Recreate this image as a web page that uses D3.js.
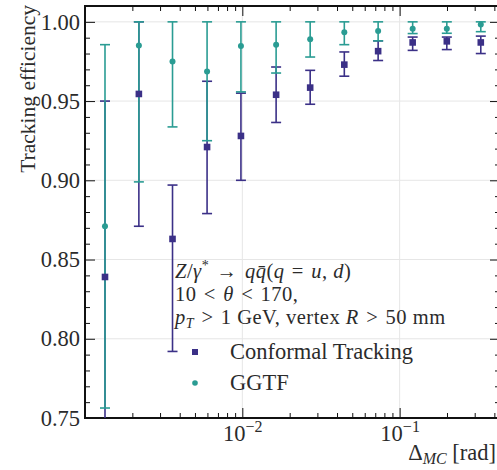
<!DOCTYPE html>
<html>
<head>
<meta charset="utf-8">
<script src="https://cdn.jsdelivr.net/npm/d3@7"></script>
<style>
	body { margin: 0; background: #fff; }
	svg text { font-family: 'Liberation Serif', 'Times New Roman', 'DejaVu Serif', serif; fill: #2b2b2b; }
</style>
</head>
<body>
<script>

// bin centres of Delta_MC [rad]
const deltaMC = [0.00134, 0.0022, 0.0036, 0.00597, 0.0098, 0.0164, 0.027, 0.0445, 0.073, 0.121, 0.1995, 0.328];

// Conformal Tracking
const confEff  = [0.839, 0.9545, 0.863, 0.921, 0.928, 0.954, 0.9585, 0.973, 0.9815, 0.987, 0.9877, 0.987];
const confLow  = [0.728, 0.871, 0.792, 0.879, 0.900, 0.9365, 0.948, 0.9657, 0.9756, 0.982, 0.9825, 0.980];
const confHigh = [0.950, 1.000, 0.897, 0.9625, 0.955, 0.9715, 0.9694, 0.981, 0.988, 0.9904, 0.9904, 0.991];

// GGTF
const ggtfEff  = [0.871, 0.985, 0.975, 0.9686, 0.9848, 0.9856, 0.989, 0.9934, 0.9942, 0.9957, 0.9957, 0.9984];
const ggtfLow  = [0.7563, 0.899, 0.9337, 0.925, 0.9558, 0.9677, 0.9778, 0.9856, 0.988, 0.9926, 0.9928, 0.9938];
const ggtfHigh = [0.9856, 1.0, 1.0, 1.0, 1.0, 1.0, 1.0, 1.0, 1.0, 1.0, 1.0, 1.0];

const yMajor = [0.75, 0.80, 0.85, 0.90, 0.95, 1.00];
const xMajor = [0.01, 0.1];

const margin = {
	top: 6,
	bottom: 52,
	left: 85,
	right: -3
}

const width = 497 - margin.left - margin.right;
const height = 470 - margin.top - margin.bottom;

const purple = '#3b3087';
const teal = '#2a9c93';
const serif = "'Liberation Serif', 'Times New Roman', 'DejaVu Serif', serif";
const fs = '22.5px';
const sp = '\u2004'; // a bit wider gap around relations, like TeX math

const x = d3.scaleLog().domain([0.001, 0.4345]).range([0, width]);
const y = d3.scaleLinear().domain([0.75, 1.01]).range([height, 0]);

const yMinor = d3.range(76, 101).map(function(d) { return d / 100; }).filter(function(d) { return Math.round(d * 100) % 5 != 0; });
const xMinor = [];
[0.001, 0.01, 0.1].forEach(function(dec) {
	for (let k = 2; k <= 9; k++) {
		if (dec * k < 0.4345) xMinor.push(dec * k);
	}
});

const svg = d3.select('body').append('svg')
	.attr('width', 497)
	.attr('height', 470)
	.attr('font-family', serif)
.append('g')
	.attr('transform', 'translate(' + margin.left + ',' + margin.top + ')');

svg.append('defs').append('clipPath').attr('id', 'clip')
	.append('rect').attr('width', width).attr('height', height);

// grid
svg.append('g').selectAll('line').data(yMajor).enter().append('line')
	.attr('x1', 0).attr('x2', width)
	.attr('y1', function(d) { return y(d); }).attr('y2', function(d) { return y(d); })
	.attr('stroke', '#e6e6e6').attr('stroke-width', 1);
svg.append('g').selectAll('line').data(xMajor).enter().append('line')
	.attr('y1', 0).attr('y2', height)
	.attr('x1', function(d) { return x(d); }).attr('x2', function(d) { return x(d); })
	.attr('stroke', '#e6e6e6').attr('stroke-width', 1);

// axes, ticks pointing in
function styleAxis(g) {
	g.attr('font-family', serif).attr('font-size', null);
	g.select('.domain').remove();
	g.selectAll('.tick line').attr('stroke', '#111').attr('stroke-width', 1);
	g.selectAll('.tick text').style('font-size', fs).style('font-family', serif).attr('fill', '#2b2b2b');
}

svg.append('g').call(d3.axisLeft(y).tickValues(yMajor).tickSize(-10).tickPadding(5).tickFormat(d3.format('.2f'))).call(styleAxis);
svg.append('g').call(d3.axisLeft(y).tickValues(yMinor).tickSize(-5).tickFormat('')).call(styleAxis);
svg.append('g').attr('transform', 'translate(' + width + ',0)')
	.call(d3.axisRight(y).tickValues(yMajor).tickSize(-10).tickFormat('')).call(styleAxis);
svg.append('g').attr('transform', 'translate(' + width + ',0)')
	.call(d3.axisRight(y).tickValues(yMinor).tickSize(-5).tickFormat('')).call(styleAxis);

const xAxisG = svg.append('g').attr('transform', 'translate(0,' + height + ')')
	.call(d3.axisBottom(x).tickValues(xMajor).tickSize(-10).tickFormat(''))
	.call(styleAxis);
svg.append('g').attr('transform', 'translate(0,' + height + ')')
	.call(d3.axisBottom(x).tickValues(xMinor).tickSize(-5).tickFormat('')).call(styleAxis);
svg.append('g').call(d3.axisTop(x).tickValues(xMajor).tickSize(-10).tickFormat('')).call(styleAxis);
svg.append('g').call(d3.axisTop(x).tickValues(xMinor).tickSize(-5).tickFormat('')).call(styleAxis);

// 10^n labels
xAxisG.selectAll('.tick').each(function(d) {
	const t = d3.select(this).append('text')
		.attr('y', 23)
		.attr('text-anchor', 'middle')
		.style('font-size', fs);
	t.append('tspan').text('10');
	t.append('tspan').attr('dy', -9).style('font-size', '16px').text('\u2212' + Math.round(-Math.log10(d)));
});

// frame
svg.append('rect')
	.attr('width', width).attr('height', height)
	.attr('fill', 'none').attr('stroke', '#111').attr('stroke-width', 2);

// error bars
const plot = svg.append('g').attr('clip-path', 'url(#clip)');

function errorBars(lo, hi, color) {
	const g = plot.append('g').attr('stroke', color).attr('stroke-width', 1.6);
	deltaMC.forEach(function(d, i) {
		g.append('line')
			.attr('x1', x(d)).attr('x2', x(d))
			.attr('y1', y(lo[i])).attr('y2', y(hi[i]));
		[lo[i], hi[i]].forEach(function(v) {
			g.append('line')
				.attr('x1', x(d) - 5).attr('x2', x(d) + 5)
				.attr('y1', y(v)).attr('y2', y(v));
		});
	});
}
errorBars(confLow, confHigh, purple);
errorBars(ggtfLow, ggtfHigh, teal);

plot.append('g').selectAll('rect').data(confEff).enter().append('rect')
	.attr('x', function(d, i) { return x(deltaMC[i]) - 3.3; })
	.attr('y', function(d) { return y(d) - 3.3; })
	.attr('width', 6.6).attr('height', 6.6)
	.attr('fill', purple);

plot.append('g').selectAll('circle').data(ggtfEff).enter().append('circle')
	.attr('cx', function(d, i) { return x(deltaMC[i]); })
	.attr('cy', function(d) { return y(d); })
	.attr('r', 3)
	.attr('fill', teal);

// annotation
function noteLine(yy) {
	return svg.append('text')
		.attr('x', 90).attr('y', yy)
		.style('font-size', '20.5px')
		.style('letter-spacing', '0.5px');
}
const l1 = noteLine(272);
l1.append('tspan').style('font-style', 'italic').text('Z');
l1.append('tspan').text('/');
l1.append('tspan').style('font-style', 'italic').text('\u03b3');
l1.append('tspan').attr('dy', -8).style('font-size', '14px').text('*');
l1.append('tspan').attr('dy', 8).text(sp + '\u2192' + sp);
l1.append('tspan').style('font-style', 'italic').text('qq\u0304');
l1.append('tspan').text('(');
l1.append('tspan').style('font-style', 'italic').text('q');
l1.append('tspan').text(sp + '=' + sp);
l1.append('tspan').style('font-style', 'italic').text('u');
l1.append('tspan').text(', ');
l1.append('tspan').style('font-style', 'italic').text('d');
l1.append('tspan').text(')');

const l2 = noteLine(295);
l2.append('tspan').text('10' + sp + '<' + sp);
l2.append('tspan').style('font-style', 'italic').text('\u03b8');
l2.append('tspan').text(sp + '<' + sp + '170,');

const l3 = noteLine(317.5);
l3.append('tspan').style('font-style', 'italic').text('p');
l3.append('tspan').attr('dy', 4).style('font-style', 'italic').style('font-size', '14px').text('T');
l3.append('tspan').attr('dy', -4).text(sp + '>' + sp + '1 GeV, vertex ');
l3.append('tspan').style('font-style', 'italic').text('R');
l3.append('tspan').text(sp + '>' + sp + '50 mm');

// legend
const legend = svg.append('g').attr('transform', 'translate(110,346)');
legend.append('rect').attr('x', -3).attr('y', -3).attr('width', 6).attr('height', 6).attr('fill', purple);
legend.append('text').attr('x', 35).attr('y', 7).style('font-size', fs).text('Conformal Tracking');
legend.append('circle').attr('cx', 0).attr('cy', 31).attr('r', 2.8).attr('fill', teal);
legend.append('text').attr('x', 35).attr('y', 38).style('font-size', fs).text('GGTF');

// axis labels
svg.append('text')
	.attr('transform', 'rotate(-90)')
	.attr('x', 1)
	.attr('y', -margin.left + 35)
	.style('text-anchor', 'end')
	.style('font-size', '21.5px')
	.text('Tracking efficiency');

const xl = svg.append('text')
	.attr('x', width - 4)
	.attr('y', height + 42)
	.style('text-anchor', 'end')
	.style('font-size', fs);
xl.append('tspan').text('\u0394');
xl.append('tspan').attr('dy', 4).style('font-style', 'italic').style('font-size', '16px').text('MC');
xl.append('tspan').attr('dy', -4).text(' [rad]');

</script>
</body>
</html>
